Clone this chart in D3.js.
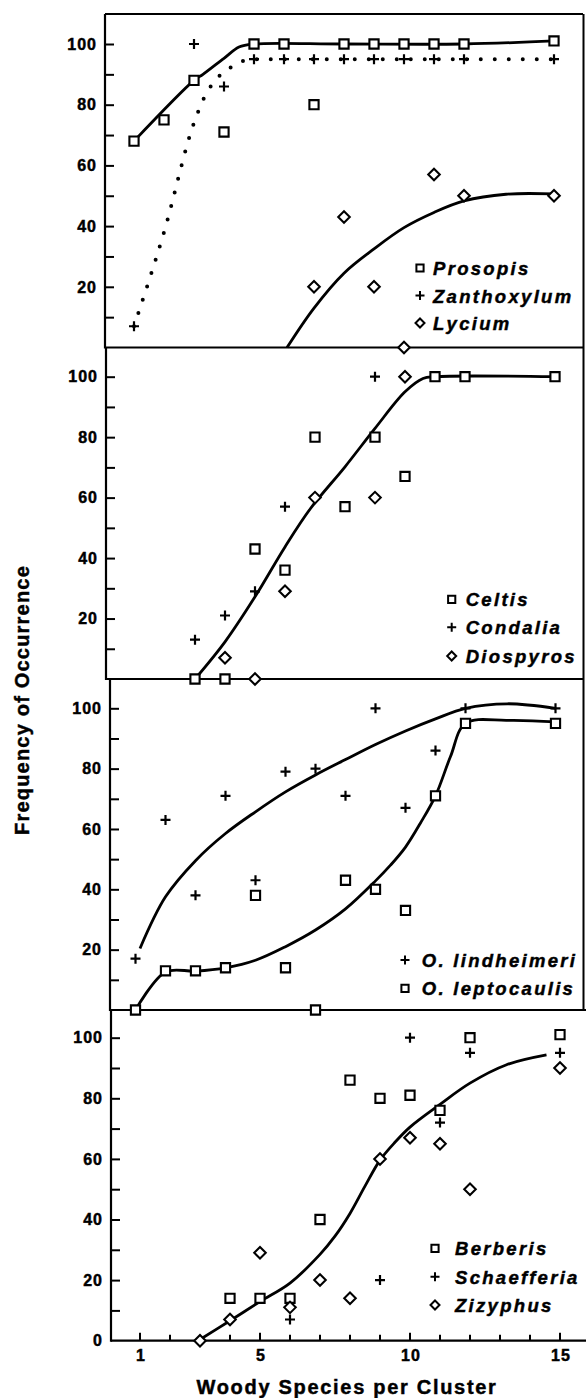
<!DOCTYPE html>
<html><head><meta charset="utf-8">
<script src="https://cdn.jsdelivr.net/npm/d3@7/dist/d3.min.js"></script>
<style>body{margin:0;background:#fff}svg{display:block}</style>
</head><body><svg id="c" width="586" height="1398"></svg>
<script>
// ---------- data ----------
const xTickValues = [1, 5, 10, 15];
const yTickLabels = [20, 40, 60, 80, 100];
const yMinorTicks = [10, 20, 30, 40, 50, 60, 70, 80, 90, 100];
const xAxisTitle = "Woody Species per Cluster";
const yAxisTitle = "Frequency of Occurrence";

// Panel 1
const prosopisX = [1, 2, 3, 4, 5, 6, 7, 8, 9, 10, 11, 12, 15];
const prosopisY = [68, 75, 88, 71, 100, 100, 80, 100, 100, 100, 100, 100, 101];
const zanthoxylumX = [1, 3, 4, 5, 6, 7, 8, 9, 10, 11, 12, 15];
const zanthoxylumY = [7, 100, 86, 95, 95, 95, 95, 95, 95, 95, 95, 95];
const lyciumX = [7, 8, 9, 10, 11, 12, 15];
const lyciumY = [20, 43, 20, 0, 57, 50, 50];
const prosopisFitX = [1, 3, 3.3, 4, 4.5, 5, 8, 12, 15];
const prosopisFitY = [68, 88, 90, 95.3, 99, 100, 100, 100, 101];
const zanthoxylumFitX = [1, 2, 3, 3.3, 3.75, 4.15, 4.6, 5, 15];
const zanthoxylumFitY = [7, 38, 74, 81.5, 88.5, 91.8, 94.3, 95, 95];
const lyciumFitX = [6.1, 7, 8, 9, 10, 11, 12, 13.4, 15];
const lyciumFitY = [0, 13, 24.5, 32.5, 39.5, 44.5, 48.3, 50.5, 50.6];

// Panel 2
const celtisX = [3, 4, 5, 6, 7, 8, 9, 10, 11, 12, 15];
const celtisY = [0, 0, 43, 36, 80, 57, 80, 67, 100, 100, 100];
const condaliaX = [3, 4, 5, 6, 9];
const condaliaY = [13, 21, 29, 57, 100];
const diospyrosX = [4, 5, 6, 7, 9, 10];
const diospyrosY = [7, 0, 29, 60, 60, 100];
const panel2FitX = [3, 4, 5, 6, 6.85, 8, 9, 10, 10.6, 11, 15];
const panel2FitY = [0, 12.3, 27.2, 43.7, 56.4, 70.2, 82.9, 95, 99.4, 100, 100];

// Panel 3
const lindheimeriX = [1, 2, 3, 4, 5, 6, 7, 8, 9, 10, 11, 12, 15];
const lindheimeriY = [17, 63, 38, 71, 43, 79, 80, 71, 100, 67, 86, 100, 100];
const leptocaulisX = [1, 2, 3, 4, 5, 6, 7, 8, 9, 10, 11, 12, 15];
const leptocaulisY = [0, 13, 13, 14, 38, 14, 0, 43, 40, 33, 71, 95, 95];
const lindheimeriFitX = [1.15, 2, 3, 4, 5, 6, 7, 8, 9, 10, 11, 12, 13.4, 15];
const lindheimeriFitY = [20.4, 37.5, 49.5, 58.5, 65.7, 72.3, 77.9, 83, 88, 92.5, 96.5, 100, 101.5, 100];
const leptocaulisFitX = [1, 2, 3, 4, 5, 6, 7, 8, 9, 9.5, 10, 10.5, 11, 11.5, 12, 13.4, 15];
const leptocaulisFitY = [0, 12.6, 12.9, 14, 16.5, 21, 26.5, 33.5, 42.8, 48, 54, 62, 71, 84, 95, 96, 95.5];

// Panel 4
const berberisX = [4, 5, 6, 7, 8, 9, 10, 11, 12, 15];
const berberisY = [14, 14, 14, 40, 86, 80, 81, 76, 100, 101];
const schaefferiaX = [6, 9, 10, 11, 12, 15];
const schaefferiaY = [7, 20, 100, 72, 95, 95];
const zizyphusX = [3, 4, 5, 6, 7, 8, 9, 10, 11, 12, 15];
const zizyphusY = [0, 7, 29, 11, 20, 14, 60, 67, 65, 50, 90];
const panel4FitX = [3, 4, 5, 6, 7, 7.5, 8, 8.5, 9, 9.5, 10, 11, 12, 13.2, 14.55];
const panel4FitY = [0.4, 6.6, 12.9, 19, 28.5, 34.5, 42, 51, 59.6, 65.5, 70.5, 78, 85, 91, 94.3];

// ---------- layout ----------
const FONT = "'Liberation Sans', Arial, Helvetica, sans-serif";
const panels = [
  { top: 14, y0: 347.5, y100: 44, axisX: 105, x0: 104, showZero: false,
    series: [
      { name: "Prosopis", xs: prosopisX, ys: prosopisY, shape: "square" },
      { name: "Zanthoxylum", xs: zanthoxylumX, ys: zanthoxylumY, shape: "plus" },
      { name: "Lycium", xs: lyciumX, ys: lyciumY, shape: "diamond" }],
    fits: [
      { xs: prosopisFitX, ys: prosopisFitY, dotted: false },
      { xs: zanthoxylumFitX, ys: zanthoxylumFitY, dotted: true },
      { xs: lyciumFitX, ys: lyciumFitY, dotted: false }],
    legend: { mx: 420, tx: 433, rows: [268, 295.5, 323], order: [0, 1, 2] } },
  { top: 347, y0: 679, y100: 376.7, axisX: 106, x0: 105, showZero: false,
    series: [
      { name: "Celtis", xs: celtisX, ys: celtisY, shape: "square" },
      { name: "Condalia", xs: condaliaX, ys: condaliaY, shape: "plus" },
      { name: "Diospyros", xs: diospyrosX, ys: diospyrosY, shape: "diamond" }],
    fits: [{ xs: panel2FitX, ys: panel2FitY, dotted: false }],
    legend: { mx: 451.7, tx: 465.7, rows: [599.3, 627.3, 656], order: [0, 1, 2] } },
  { top: 679, y0: 1010, y100: 708.3, axisX: 110, x0: 105.5, showZero: false,
    series: [
      { name: "O. lindheimeri", xs: lindheimeriX, ys: lindheimeriY, shape: "plus" },
      { name: "O. leptocaulis", xs: leptocaulisX, ys: leptocaulisY, shape: "square" }],
    fits: [
      { xs: lindheimeriFitX, ys: lindheimeriFitY, dotted: false },
      { xs: leptocaulisFitX, ys: leptocaulisFitY, dotted: false }],
    legend: { mx: 405, tx: 421.7, rows: [960, 988.3], order: [0, 1] } },
  { top: 1010, y0: 1340.7, y100: 1037.7, axisX: 111, x0: 110, showZero: true,
    series: [
      { name: "Berberis", xs: berberisX, ys: berberisY, shape: "square" },
      { name: "Schaefferia", xs: schaefferiaX, ys: schaefferiaY, shape: "plus" },
      { name: "Zizyphus", xs: zizyphusX, ys: zizyphusY, shape: "diamond" }],
    fits: [{ xs: panel4FitX, ys: panel4FitY, dotted: false }],
    legend: { mx: 435, tx: 455, rows: [1248.3, 1276.7, 1305], order: [0, 1, 2] } }
];

const svg = d3.select("#c");
svg.append("rect").attr("width", 586).attr("height", 1398).attr("fill", "#fff");

const gFrame = svg.append("g");
const gLines = svg.append("g");
const gMarks = svg.append("g");
const gText = svg.append("g").attr("font-family", FONT).attr("fill", "#000")
  .attr("stroke", "#000").attr("stroke-width", 0.45);

function markerPath(shape, s) {
  if (shape === "square") return `M${-s},${-s}H${s}V${s}H${-s}Z`;
  if (shape === "diamond") { const d = s * 1.25; return `M0,${-d}L${d},0L0,${d}L${-d},0Z`; }
  return `M${-s},0H${s}M0,${-s}V${s}`;
}

// top border and right border
gFrame.append("line").attr("x1", 105).attr("x2", 583).attr("y1", 14).attr("y2", 14)
  .attr("stroke", "#000").attr("stroke-width", 2.2);
gFrame.append("line").attr("x1", 583.5).attr("x2", 583.5).attr("y1", 14).attr("y2", 1010)
  .attr("stroke", "#000").attr("stroke-width", 2);

panels.forEach((p, i) => {
  const x = d3.scaleLinear().domain([0, 15]).range([p.x0, p.x0 + 450]);
  const y = d3.scaleLinear().domain([0, 100]).range([p.y0, p.y100]);

  // bottom line of panel (boundary / x axis)
  gFrame.append("line").attr("x1", p.axisX).attr("x2", i >= 2 ? 586 : 584)
    .attr("y1", p.y0).attr("y2", p.y0).attr("stroke", "#000").attr("stroke-width", 2.2);

  // y axis
  const yAxis = d3.axisRight(y).tickValues(yMinorTicks).tickSize(9).tickFormat("");
  const ga = gFrame.append("g").attr("transform", `translate(${p.axisX},0)`).call(yAxis);
  ga.select(".domain").remove();
  ga.selectAll("line").attr("stroke", "#000").attr("stroke-width", 2);
  gFrame.append("line").attr("x1", p.axisX).attr("x2", p.axisX)
    .attr("y1", p.top).attr("y2", p.y0 + 1).attr("stroke", "#000").attr("stroke-width", 2.2);

  const labs = p.showZero ? [0].concat(yTickLabels) : yTickLabels;
  gText.selectAll(null).data(labs).enter().append("text")
    .attr("x", p.axisX - 8).attr("y", d => y(d)).attr("dy", "0.36em")
    .attr("text-anchor", "end").attr("font-size", 16).attr("font-weight", "bold")
    .attr("letter-spacing", 1).text(d => d);

  // fitted lines
  p.fits.forEach(f => {
    const line = d3.line().x(d => x(d[0])).y(d => y(d[1]))
      .curve(f.dotted ? d3.curveMonotoneX : d3.curveCatmullRom.alpha(0.5));
    const pts = f.xs.map((v, k) => [v, f.ys[k]]);
    const path = gLines.append("path").attr("d", line(pts)).attr("fill", "none")
      .attr("stroke", "#000");
    if (f.dotted) path.attr("stroke-width", 4).attr("stroke-linecap", "round").attr("stroke-dasharray", "0 14");
    else path.attr("stroke-width", 2.8);
  });

  // markers
  p.series.forEach(s => {
    gMarks.selectAll(null).data(s.xs.map((v, k) => [v, s.ys[k]])).enter().append("path")
      .attr("transform", d => `translate(${x(d[0])},${y(d[1])})`)
      .attr("d", markerPath(s.shape, s.shape === "plus" ? 5 : 4.6))
      .attr("fill", s.shape === "plus" ? "none" : "#fff")
      .attr("stroke", "#000").attr("stroke-width", s.shape === "plus" ? 2.2 : 2.1);
  });

  // legend
  p.legend.order.forEach((si, r) => {
    const s = p.series[si];
    const cy = p.legend.rows[r];
    gMarks.append("path").attr("transform", `translate(${p.legend.mx},${cy})`)
      .attr("d", markerPath(s.shape, s.shape === "plus" ? 4.5 : 3.6))
      .attr("fill", s.shape === "plus" ? "none" : "#fff")
      .attr("stroke", "#000").attr("stroke-width", 2);
    gText.append("text").attr("x", p.legend.tx).attr("y", cy + 7)
      .attr("font-size", 18.5).attr("font-weight", "bold").attr("font-style", "italic")
      .attr("letter-spacing", 2.3).text(s.name);
  });

  // x axis on last panel
  if (i === panels.length - 1) {
    const ticks = d3.range(1, 16);
    gFrame.selectAll(null).data(ticks).enter().append("line")
      .attr("x1", d => x(d)).attr("x2", d => x(d))
      .attr("y1", p.y0).attr("y2", d => p.y0 - (xTickValues.includes(d) ? 8 : 6))
      .attr("stroke", "#000").attr("stroke-width", 2);
    gText.selectAll(null).data(xTickValues).enter().append("text")
      .attr("x", d => x(d) + 1).attr("y", 1361).attr("text-anchor", "middle")
      .attr("font-size", 16).attr("font-weight", "bold").attr("letter-spacing", 1).text(d => d);
  }
});

gText.append("text").attr("x", 347).attr("y", 1394).attr("text-anchor", "middle")
  .attr("font-size", 20).attr("font-weight", "bold").attr("letter-spacing", 1.7).text(xAxisTitle);
gText.append("text").attr("transform", "translate(29,700) rotate(-90)").attr("text-anchor", "middle")
  .attr("font-size", 20).attr("font-weight", "bold").attr("letter-spacing", 1.2).text(yAxisTitle);
</script></body></html>
